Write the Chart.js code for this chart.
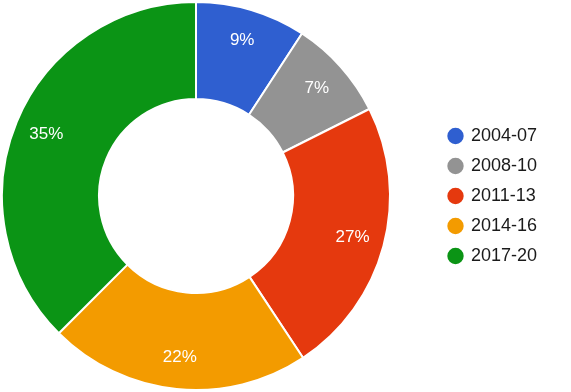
<!DOCTYPE html>
<html>
<head>
<meta charset="utf-8">
<title>Doughnut</title>
<script src="https://cdn.jsdelivr.net/npm/chart.js@4"></script>
<style>
  html, body { margin: 0; padding: 0; background: #fff; }
  #wrap { width: 571px; height: 392px; }
</style>
</head>
<body>
<div id="wrap"><canvas id="chart" width="571" height="392"></canvas></div>
<script>
const periods = ["2004-07", "2008-10", "2011-13", "2014-16", "2017-20"];
// slice sizes
const shares = [9.2, 8.4, 23.1, 21.8, 37.5];
// percentage text printed on the slices
const pctLabels = ["9%", "7%", "27%", "22%", "35%"];
const colors = ["#2f5fd0", "#939393", "#e5390e", "#f39b00", "#0b9415"];

// legend sits further right than Chart.js puts it
const legendPlacement = {
  id: "legendPlacement",
  afterInit(chart) {
    const fit = chart.legend.fit;
    chart.legend.fit = function () {
      fit.call(this);
      this.width = 179;
    };
  },
  afterLayout(chart) {
    chart.legend.left += 45;
    chart.legend.right += 45;
  }
};

// white percentage text inside each slice
const sliceLabels = {
  id: "sliceLabels",
  afterDatasetsDraw(chart) {
    const ctx = chart.ctx;
    const meta = chart.getDatasetMeta(0);
    ctx.save();
    ctx.font = "17px 'Liberation Sans', Arial, sans-serif";
    ctx.fillStyle = "#fff";
    ctx.textAlign = "center";
    ctx.textBaseline = "middle";
    meta.data.forEach((arc, i) => {
      const p = arc.getProps(["x", "y", "startAngle", "endAngle", "innerRadius", "outerRadius"], true);
      const a = (p.startAngle + p.endAngle) / 2;
      const r = p.innerRadius + 0.67 * (p.outerRadius - p.innerRadius);
      ctx.fillText(pctLabels[i], p.x + r * Math.cos(a), p.y + r * Math.sin(a));
    });
    ctx.restore();
  }
};

new Chart(document.getElementById("chart"), {
  type: "doughnut",
  data: {
    labels: periods,
    datasets: [{
      data: shares,
      backgroundColor: colors,
      borderColor: "#fff",
      borderWidth: 2
    }]
  },
  options: {
    responsive: false,
    animation: false,
    cutout: "50%",
    layout: { padding: { left: 0, top: 1, bottom: 1, right: 0 } },
    plugins: {
      tooltip: { enabled: false },
      legend: {
        position: "right",
        labels: {
          usePointStyle: true,
          pointStyle: "circle",
          boxWidth: 13,
          boxHeight: 13,
          padding: 12,
          color: "#1a1a1a",
          font: { family: "'Liberation Sans', Arial, sans-serif", size: 18 }
        }
      }
    }
  },
  plugins: [legendPlacement, sliceLabels]
});
</script>
</body>
</html>
